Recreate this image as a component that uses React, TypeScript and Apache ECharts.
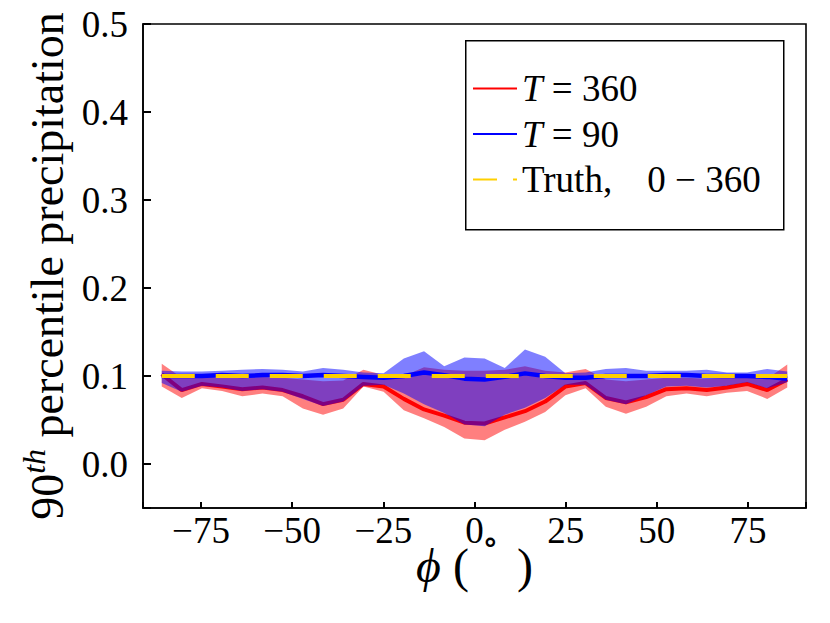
import React, { useEffect, useRef } from 'react';
import * as echarts from 'echarts';

const FONT = '"Liberation Serif", "DejaVu Serif", serif';

// Gaussian latitudes (degrees)
const latitudes = [-85.76, -80.27, -74.74, -69.21, -63.68, -58.14, -52.61, -47.07, -41.53, -36.0, -30.46, -24.92, -19.38, -13.84, -8.3, -2.77, 2.77, 8.3, 13.84, 19.38, 24.92, 30.46, 36.0, 41.53, 47.07, 52.61, 58.14, 63.68, 69.21, 74.74, 80.27, 85.76];

// T = 360
const t360Mean = [0.102, 0.084, 0.091, 0.088, 0.085, 0.087, 0.084, 0.077, 0.068, 0.073, 0.091, 0.088, 0.074, 0.062, 0.055, 0.047, 0.046, 0.053, 0.060, 0.071, 0.088, 0.092, 0.075, 0.070, 0.076, 0.085, 0.086, 0.084, 0.087, 0.091, 0.084, 0.096];
const t360Lower = [0.088, 0.075, 0.086, 0.083, 0.077, 0.080, 0.077, 0.063, 0.056, 0.063, 0.088, 0.082, 0.061, 0.052, 0.042, 0.029, 0.027, 0.039, 0.048, 0.059, 0.078, 0.086, 0.065, 0.057, 0.065, 0.077, 0.080, 0.077, 0.081, 0.083, 0.074, 0.087];
const t360Upper = [0.114, 0.098, 0.100, 0.099, 0.098, 0.099, 0.098, 0.096, 0.094, 0.095, 0.107, 0.101, 0.100, 0.110, 0.107, 0.106, 0.106, 0.107, 0.111, 0.106, 0.104, 0.108, 0.096, 0.094, 0.096, 0.098, 0.098, 0.097, 0.098, 0.101, 0.097, 0.113];

// T = 90
const t90Mean = [0.100, 0.100, 0.100, 0.101, 0.100, 0.101, 0.101, 0.100, 0.101, 0.100, 0.099, 0.098, 0.100, 0.104, 0.101, 0.097, 0.096, 0.099, 0.103, 0.100, 0.098, 0.098, 0.100, 0.100, 0.100, 0.101, 0.101, 0.100, 0.100, 0.100, 0.099, 0.097];
const t90Lower = [0.092, 0.082, 0.089, 0.087, 0.083, 0.085, 0.082, 0.074, 0.066, 0.071, 0.089, 0.090, 0.080, 0.068, 0.058, 0.045, 0.043, 0.056, 0.064, 0.075, 0.090, 0.090, 0.073, 0.068, 0.078, 0.088, 0.089, 0.087, 0.089, 0.093, 0.086, 0.093];
const t90Upper = [0.106, 0.105, 0.105, 0.106, 0.107, 0.108, 0.107, 0.105, 0.109, 0.107, 0.104, 0.103, 0.120, 0.128, 0.111, 0.121, 0.120, 0.109, 0.130, 0.122, 0.103, 0.104, 0.108, 0.109, 0.106, 0.106, 0.106, 0.107, 0.104, 0.104, 0.108, 0.105];

// Truth, 0 - 360
const truthValues = [0.1, 0.1, 0.1, 0.1, 0.1, 0.1, 0.1, 0.1, 0.1, 0.1, 0.1, 0.1, 0.1, 0.1, 0.1, 0.1, 0.1, 0.1, 0.1, 0.1, 0.1, 0.1, 0.1, 0.1, 0.1, 0.1, 0.1, 0.1, 0.1, 0.1, 0.1, 0.1];

const xTickStep = 25;
const yTickStep = 0.1;

const RED = '#ff0000';
const BLUE = '#0000ff';
const GOLD = '#ffd000';

function pairs(values: number[]) {
  return latitudes.map((x, i) => [x, values[i]]);
}

function band(lower: number[], upper: number[], fill: string, z: number) {
  return {
    type: 'custom',
    silent: true,
    z,
    data: latitudes.map((x, i) => [x, lower[i], upper[i]]),
    encode: { x: 0, y: [1, 2] },
    renderItem: (params: any, api: any) => {
      if (params.dataIndex !== 0) return null;
      const top = latitudes.map((x, i) => api.coord([x, upper[i]]));
      const bottom = latitudes.map((x, i) => api.coord([x, lower[i]])).reverse();
      return {
        type: 'polygon',
        shape: { points: top.concat(bottom) },
        style: { fill, stroke: 'none' },
      };
    },
  };
}

function isMultiple(v: number, step: number) {
  return Math.abs(v / step - Math.round(v / step)) < 1e-6;
}

export default function App() {
  const ref = useRef<HTMLDivElement>(null);
  useEffect(() => {
    const chart = echarts.init(ref.current!, null, { renderer: 'svg' });
    const option: any = {
      animation: false,
      backgroundColor: '#ffffff',
      grid: {
        left: 143, right: 24, top: 24, bottom: 115,
        show: true, borderColor: '#000', borderWidth: 1.6, backgroundColor: 'rgba(0,0,0,0)',
        z: 0, containLabel: false, outerBoundsMode: 'none',
      },
      xAxis: {
        type: 'value', position: 'bottom', z: 6,
        min: -90.9, max: 90.9, minInterval: xTickStep, maxInterval: xTickStep,
        splitLine: { show: false },
        axisLine: { show: true, onZero: false, lineStyle: { color: '#000', width: 1.6 } },
        axisTick: { show: true, inside: true, length: 6, lineStyle: { color: '#000', width: 2 } },
        axisLabel: {
          margin: 9, color: '#000', fontFamily: FONT, fontSize: 37, lineHeight: 26,
          formatter: (v: number) => (isMultiple(v, xTickStep) ? (v < 0 ? '\u2212' + Math.abs(Math.round(v)) : String(Math.round(v))) : ''),
        },
        name: '{i|\u03d5} {r|(\u2002\u2002)}',
        nameLocation: 'middle', nameGap: 37, nameMoveOverlap: false,
        nameTextStyle: {
          color: '#000', fontFamily: FONT, fontSize: 48, lineHeight: 40,
          rich: {
            i: { fontFamily: FONT, fontStyle: 'italic', fontSize: 48, lineHeight: 40, color: '#000' },
            r: { fontFamily: FONT, fontSize: 48, lineHeight: 40, color: '#000' },
          },
        },
      },
      yAxis: {
        type: 'value', position: 'left', z: 6,
        min: -0.05, max: 0.5, minInterval: yTickStep, maxInterval: yTickStep,
        splitLine: { show: false },
        axisLine: { show: true, onZero: false, lineStyle: { color: '#000', width: 1.6 } },
        axisTick: { show: true, inside: true, length: 8, lineStyle: { color: '#000', width: 2 } },
        axisLabel: {
          margin: 15, color: '#000', fontFamily: FONT, fontSize: 37,
          formatter: (v: number) => (isMultiple(v, yTickStep) ? v.toFixed(1) : ''),
        },
        name: '{n|90}{s|th}{n| percentile precipitation}',
        nameLocation: 'middle', nameGap: 60, nameRotate: 90,
        nameTextStyle: {
          color: '#000', fontFamily: FONT, fontSize: 46,
          rich: {
            n: { fontFamily: FONT, fontSize: 46, lineHeight: 60, color: '#000' },
            s: { fontFamily: FONT, fontSize: 32, fontStyle: 'italic', lineHeight: 32, verticalAlign: 'top', color: '#000' },
          },
        },
      },
      legend: {
        left: 472, top: 70, orient: 'vertical', padding: 0, itemGap: 8.5,
        itemWidth: 44, itemHeight: 14, selectedMode: false,
        itemStyle: { opacity: 0 },
        data: [
          { name: 'T = 360' },
          { name: 'T = 90' },
          { name: 'Truth, 0 \u2212 360', lineStyle: { type: [24, 16] } },
        ],
        formatter: (name: string) => {
          if (name === 'T = 360') return '{i|T}{r| = 360}';
          if (name === 'T = 90') return '{i|T}{r| = 90}';
          return '{r|Truth,\u2002\u2009 0 \u2212 360}';
        },
        textStyle: {
          color: '#000', fontFamily: FONT, fontSize: 37,
          rich: {
            i: { fontFamily: FONT, fontStyle: 'italic', fontSize: 37, color: '#000' },
            r: { fontFamily: FONT, fontSize: 37, color: '#000' },
          },
        },
      },
      graphic: [
        {
          type: 'rect', left: 465, top: 40, z: 0,
          shape: { width: 318, height: 189 },
          style: { fill: '#fff', stroke: '#000', lineWidth: 1.5 },
        },
        {
          type: 'text', left: 482, top: 524, z: 10,
          style: { text: '\u2218', fontFamily: FONT, fontSize: 34, fill: '#000' },
        },
      ],
      series: [
        band(t360Lower, t360Upper, 'rgba(255,0,0,0.5)', 1),
        {
          type: 'line', name: 'T = 360', data: pairs(t360Mean), symbol: 'none', z: 2,
          lineStyle: { color: RED, width: 4 }, itemStyle: { color: RED },
        },
        band(t90Lower, t90Upper, 'rgba(0,0,255,0.5)', 3),
        {
          type: 'line', name: 'T = 90', data: pairs(t90Mean), symbol: 'none', z: 4,
          lineStyle: { color: BLUE, width: 4.5 }, itemStyle: { color: BLUE },
        },
        {
          type: 'line', name: 'Truth, 0 \u2212 360', data: pairs(truthValues), symbol: 'none', z: 5,
          lineStyle: { color: GOLD, width: 4, type: [33, 21] }, itemStyle: { color: GOLD },
        },
      ],
    };
    chart.setOption(option);
    return () => chart.dispose();
  }, []);
  return (
    <div
      ref={ref}
      style={{ position: 'fixed', left: 0, top: 0, width: 830, height: 623, background: '#fff' }}
    />
  );
}
